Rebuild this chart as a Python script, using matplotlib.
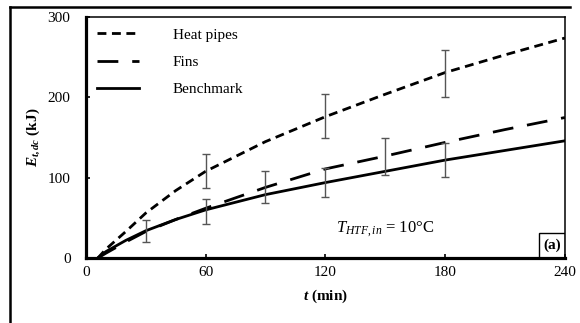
"""Energy discharged vs time, three configurations"""

import matplotlib
matplotlib.use("Agg")
import matplotlib.pyplot as plt
from matplotlib.lines import Line2D
from matplotlib.patches import Rectangle

plt.rcParams['font.family'] = ['Liberation Serif', 'DejaVu Serif']
plt.rcParams['mathtext.fontset'] = 'custom'
plt.rcParams['mathtext.rm'] = 'Liberation Serif'
plt.rcParams['mathtext.it'] = 'Liberation Serif:italic'
plt.rcParams['mathtext.bf'] = 'Liberation Serif:bold'
plt.rcParams['mathtext.bfit'] = 'Liberation Serif:italic:bold'

# time (min) and energy (kJ)
t = [6, 10, 20, 30, 45, 60, 90, 120, 150, 180, 210, 240]
heat_pipes = [0, 11, 33, 56, 84, 108, 145, 176, 204, 231, 253, 274]
fins = [0, 6, 20, 33, 48, 62, 88, 111, 127, 144, 160, 175]
benchmark = [0, 8, 22, 34, 48, 60, 79, 94, 108, 122, 134, 146]

# error bars: time, centre, half width
err_t = [30, 60, 60, 90, 120, 120, 150, 180, 180]
err_y = [34, 108, 58, 88, 177, 94, 126, 230, 122]
err_h = [14, 21, 15, 20, 27, 18, 23, 29, 21]

fig = plt.figure(figsize=(5.8, 3.23), dpi=100)
ax = fig.add_axes([0.148, 0.201, 0.826, 0.746])

ax.plot(t, heat_pipes, color='black', lw=2.0, dashes=(3.2, 2.0), label='Heat pipes')
ax.plot(t, fins, color='black', lw=2.0, dashes=(7.5, 5.0), label='Fins')
ax.plot(t, benchmark, color='black', lw=2.0, label='Benchmark')
ax.errorbar(err_t, err_y, yerr=err_h, fmt='none', ecolor='#555555',
            elinewidth=1.0, capsize=3, capthick=1.0)

ax.set_xlim(0, 240)
ax.set_ylim(0, 300)
ax.set_xticks([0, 60, 120, 180, 240])
ax.set_yticks([0, 100, 200, 300])
ax.tick_params(direction='in', length=3, width=1.2, labelsize=11)
ax.tick_params(axis='x', pad=6)
ax.tick_params(axis='y', pad=11)
for s in ['left', 'bottom']:
    ax.spines[s].set_linewidth(2.3)
for s in ['top', 'right']:
    ax.spines[s].set_linewidth(1.1)

ax.set_xlabel(r'$\mathbfit{t}$ (min)', fontsize=11, fontweight='bold', labelpad=6)
ax.set_ylabel(r'$\mathbfit{E}_{\mathbfit{t,dc}}$ (kJ)', fontsize=11,
              fontweight='bold', labelpad=4)

ax.legend(loc='upper left', bbox_to_anchor=(0.0, 1.0), frameon=False,
          fontsize=11, handlelength=2.8, handletextpad=2.2, labelspacing=0.9,
          borderaxespad=0.3)

ax.text(150, 36, r'$T_{HTF,in}$ = 10°C', fontsize=12, ha='center', va='center')

ax.add_patch(Rectangle((0.946, 0.0), 0.054, 0.104, transform=ax.transAxes,
                       fill=False, lw=1.0, color='black'))
ax.text(0.973, 0.052, '(a)', transform=ax.transAxes, ha='center', va='center',
        fontsize=11, fontweight='bold')

# outer frame of the figure (top and left edge)
fig.add_artist(Line2D([0.017, 0.983], [0.978, 0.978], color='black', lw=1.8,
                      transform=fig.transFigure))
fig.add_artist(Line2D([0.017, 0.017], [0.0, 0.978], color='black', lw=1.8,
                      transform=fig.transFigure))

fig.savefig('out.png', dpi=100)
